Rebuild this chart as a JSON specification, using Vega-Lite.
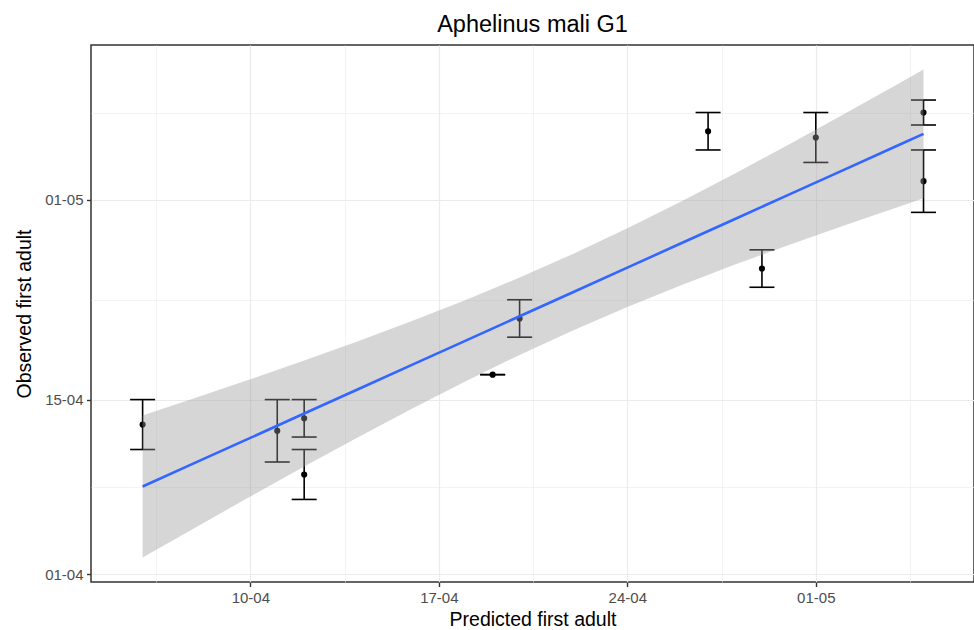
{
  "$schema": "https://vega.github.io/schema/vega-lite/v6.json",
  "width": 883,
  "height": 537,
  "autosize": {"type": "none"},
  "padding": {"left": 91, "top": 45, "right": 0, "bottom": 48},
  "background": "white",
  "title": {"text": "Aphelinus mali G1", "fontSize": 23.5, "font": "Liberation Sans", "fontWeight": "normal", "color": "#000000", "offset": 9, "anchor": "middle"},
  "config": {
    "view": {"stroke": "#333333", "strokeWidth": 1.5},
    "axis": {
      "domain": false,
      "tickColor": "#333333",
      "tickSize": 4.5,
      "tickWidth": 1.4,
      "labelColor": "#4D4D4D",
      "labelFont": "Liberation Sans",
      "labelFontSize": 15,
      "labelPadding": 3.5,
      "titleFont": "Liberation Sans",
      "titleFontSize": 19.5,
      "titleFontWeight": "normal",
      "titleColor": "#000000",
      "gridColor": "#EBEBEB",
      "labelFlush": false,
      "labelOverlap": false
    }
  },
  "datasets": {
    "obs": [
      {"predicted": "2021-04-06T00:00Z", "observed": "2021-04-13T00:00Z", "obs_min": "2021-04-11T00:00Z", "obs_max": "2021-04-15T00:00Z"},
      {"predicted": "2021-04-11T00:00Z", "observed": "2021-04-12T12:00Z", "obs_min": "2021-04-10T00:00Z", "obs_max": "2021-04-15T00:00Z"},
      {"predicted": "2021-04-12T00:00Z", "observed": "2021-04-13T12:00Z", "obs_min": "2021-04-12T00:00Z", "obs_max": "2021-04-15T00:00Z"},
      {"predicted": "2021-04-12T00:00Z", "observed": "2021-04-09T00:00Z", "obs_min": "2021-04-07T00:00Z", "obs_max": "2021-04-11T00:00Z"},
      {"predicted": "2021-04-19T00:00Z", "observed": "2021-04-17T00:00Z", "obs_min": "2021-04-17T00:00Z", "obs_max": "2021-04-17T00:00Z"},
      {"predicted": "2021-04-20T00:00Z", "observed": "2021-04-21T12:00Z", "obs_min": "2021-04-20T00:00Z", "obs_max": "2021-04-23T00:00Z"},
      {"predicted": "2021-04-27T00:00Z", "observed": "2021-05-06T12:00Z", "obs_min": "2021-05-05T00:00Z", "obs_max": "2021-05-08T00:00Z"},
      {"predicted": "2021-04-29T00:00Z", "observed": "2021-04-25T12:00Z", "obs_min": "2021-04-24T00:00Z", "obs_max": "2021-04-27T00:00Z"},
      {"predicted": "2021-05-01T00:00Z", "observed": "2021-05-06T00:00Z", "obs_min": "2021-05-04T00:00Z", "obs_max": "2021-05-08T00:00Z"},
      {"predicted": "2021-05-05T00:00Z", "observed": "2021-05-08T00:00Z", "obs_min": "2021-05-07T00:00Z", "obs_max": "2021-05-09T00:00Z"},
      {"predicted": "2021-05-05T00:00Z", "observed": "2021-05-02T12:00Z", "obs_min": "2021-04-30T00:00Z", "obs_max": "2021-05-05T00:00Z"}
    ],
    "fit": [
      {"predicted": "2021-04-06T00:00Z", "fitted": "2021-04-08T00:52Z", "lower": "2021-04-02T08:11Z", "upper": "2021-04-13T17:33Z"},
      {"predicted": "2021-04-08T00:00Z", "fitted": "2021-04-09T23:38Z", "lower": "2021-04-04T19:13Z", "upper": "2021-04-15T04:04Z"},
      {"predicted": "2021-04-10T00:00Z", "fitted": "2021-04-11T22:23Z", "lower": "2021-04-07T05:35Z", "upper": "2021-04-16T15:11Z"},
      {"predicted": "2021-04-12T00:00Z", "fitted": "2021-04-13T21:10Z", "lower": "2021-04-09T15:10Z", "upper": "2021-04-18T03:10Z"},
      {"predicted": "2021-04-14T00:00Z", "fitted": "2021-04-15T19:55Z", "lower": "2021-04-11T23:34Z", "upper": "2021-04-19T16:16Z"},
      {"predicted": "2021-04-16T00:00Z", "fitted": "2021-04-17T18:42Z", "lower": "2021-04-14T06:30Z", "upper": "2021-04-21T06:53Z"},
      {"predicted": "2021-04-18T00:00Z", "fitted": "2021-04-19T17:27Z", "lower": "2021-04-16T11:24Z", "upper": "2021-04-22T23:30Z"},
      {"predicted": "2021-04-20T00:00Z", "fitted": "2021-04-21T16:13Z", "lower": "2021-04-18T13:51Z", "upper": "2021-04-24T18:36Z"},
      {"predicted": "2021-04-22T00:00Z", "fitted": "2021-04-23T14:59Z", "lower": "2021-04-20T13:25Z", "upper": "2021-04-26T16:32Z"},
      {"predicted": "2021-04-24T00:00Z", "fitted": "2021-04-25T13:45Z", "lower": "2021-04-22T10:03Z", "upper": "2021-04-28T17:27Z"},
      {"predicted": "2021-04-26T00:00Z", "fitted": "2021-04-27T12:32Z", "lower": "2021-04-24T03:59Z", "upper": "2021-04-30T21:04Z"},
      {"predicted": "2021-04-28T00:00Z", "fitted": "2021-04-29T11:17Z", "lower": "2021-04-25T19:35Z", "upper": "2021-05-03T02:59Z"},
      {"predicted": "2021-04-30T00:00Z", "fitted": "2021-05-01T10:03Z", "lower": "2021-04-27T09:29Z", "upper": "2021-05-05T10:38Z"},
      {"predicted": "2021-05-02T00:00Z", "fitted": "2021-05-03T08:48Z", "lower": "2021-04-28T22:00Z", "upper": "2021-05-07T19:36Z"},
      {"predicted": "2021-05-04T00:00Z", "fitted": "2021-05-05T07:35Z", "lower": "2021-04-30T09:34Z", "upper": "2021-05-10T05:35Z"},
      {"predicted": "2021-05-05T00:00Z", "fitted": "2021-05-06T06:58Z", "lower": "2021-05-01T03:04Z", "upper": "2021-05-11T10:51Z"}
    ]
  },
  "encoding": {
    "x": {
      "field": "predicted",
      "type": "temporal",
      "title": "Predicted first adult",
      "scale": {"type": "utc", "nice": false, "domain": [{"year": 2021, "month": 4, "date": 4, "hours": 2, "utc": true}, {"year": 2021, "month": 5, "date": 6, "hours": 21, "utc": true}]},
      "axis": {
        "values": [
          {"year": 2021, "month": 4, "date": 6, "hours": 12, "utc": true},
          {"year": 2021, "month": 4, "date": 10, "utc": true},
          {"year": 2021, "month": 4, "date": 13, "hours": 12, "utc": true},
          {"year": 2021, "month": 4, "date": 17, "utc": true},
          {"year": 2021, "month": 4, "date": 20, "hours": 12, "utc": true},
          {"year": 2021, "month": 4, "date": 24, "utc": true},
          {"year": 2021, "month": 4, "date": 27, "hours": 12, "utc": true},
          {"year": 2021, "month": 5, "date": 1, "utc": true},
          {"year": 2021, "month": 5, "date": 4, "hours": 12, "utc": true}
        ],
        "labelExpr": "utchours(datum.value) == 12 ? '' : utcFormat(datum.value, '%d-%m')",
        "tickOpacity": {"condition": {"test": "utchours(datum.value) == 12", "value": 0}, "value": 1},
        "gridWidth": {"condition": {"test": "utchours(datum.value) == 12", "value": 0.6}, "value": 1.2},
        "titlePadding": 5
      }
    }
  },
  "layer": [
    {
      "data": {"name": "obs"},
      "mark": {"type": "rule", "color": "#000000", "strokeWidth": 1.6},
      "encoding": {
        "y": {
          "field": "obs_min",
          "type": "temporal",
          "title": "Observed first adult",
          "scale": {"type": "utc", "nice": false, "domain": [{"year": 2021, "month": 3, "date": 31, "hours": 9, "minutes": 15, "utc": true}, {"year": 2021, "month": 5, "date": 13, "hours": 9, "minutes": 50, "utc": true}]},
          "axis": {
            "values": [
              {"year": 2021, "month": 4, "date": 1, "utc": true},
              {"year": 2021, "month": 4, "date": 8, "utc": true},
              {"year": 2021, "month": 4, "date": 15, "utc": true},
              {"year": 2021, "month": 4, "date": 23, "utc": true},
              {"year": 2021, "month": 5, "date": 1, "utc": true},
              {"year": 2021, "month": 5, "date": 8, "utc": true}
            ],
            "labelExpr": "(utcdate(datum.value) == 8 || utcdate(datum.value) == 23) ? '' : utcFormat(datum.value, '%d-%m')",
            "tickOpacity": {"condition": {"test": "utcdate(datum.value) == 8 || utcdate(datum.value) == 23", "value": 0}, "value": 1},
            "gridWidth": {"condition": {"test": "utcdate(datum.value) == 8 || utcdate(datum.value) == 23", "value": 0.6}, "value": 1.2},
            "titlePadding": 10
          }
        },
        "y2": {"field": "obs_max"}
      }
    },
    {
      "data": {"name": "obs"},
      "mark": {"type": "tick", "orient": "horizontal", "size": 25, "thickness": 1.6, "color": "#000000", "opacity": 1},
      "encoding": {
        "y": {"field": "obs_min", "type": "temporal", "title": "Observed first adult"}
      }
    },
    {
      "data": {"name": "obs"},
      "mark": {"type": "tick", "orient": "horizontal", "size": 25, "thickness": 1.6, "color": "#000000", "opacity": 1},
      "encoding": {
        "y": {"field": "obs_max", "type": "temporal", "title": "Observed first adult"}
      }
    },
    {
      "data": {"name": "obs"},
      "mark": {"type": "point", "filled": true, "color": "#000000", "size": 38, "opacity": 1},
      "encoding": {
        "y": {"field": "observed", "type": "temporal", "title": "Observed first adult"}
      }
    },
    {
      "data": {"name": "fit"},
      "mark": {"type": "area", "color": "#999999", "fillOpacity": 0.4},
      "encoding": {
        "y": {"field": "lower", "type": "temporal", "title": "Observed first adult"},
        "y2": {"field": "upper"}
      }
    },
    {
      "data": {"name": "fit"},
      "mark": {"type": "line", "color": "#3366FF", "strokeWidth": 2.6},
      "encoding": {
        "y": {"field": "fitted", "type": "temporal", "title": "Observed first adult"}
      }
    }
  ]
}
